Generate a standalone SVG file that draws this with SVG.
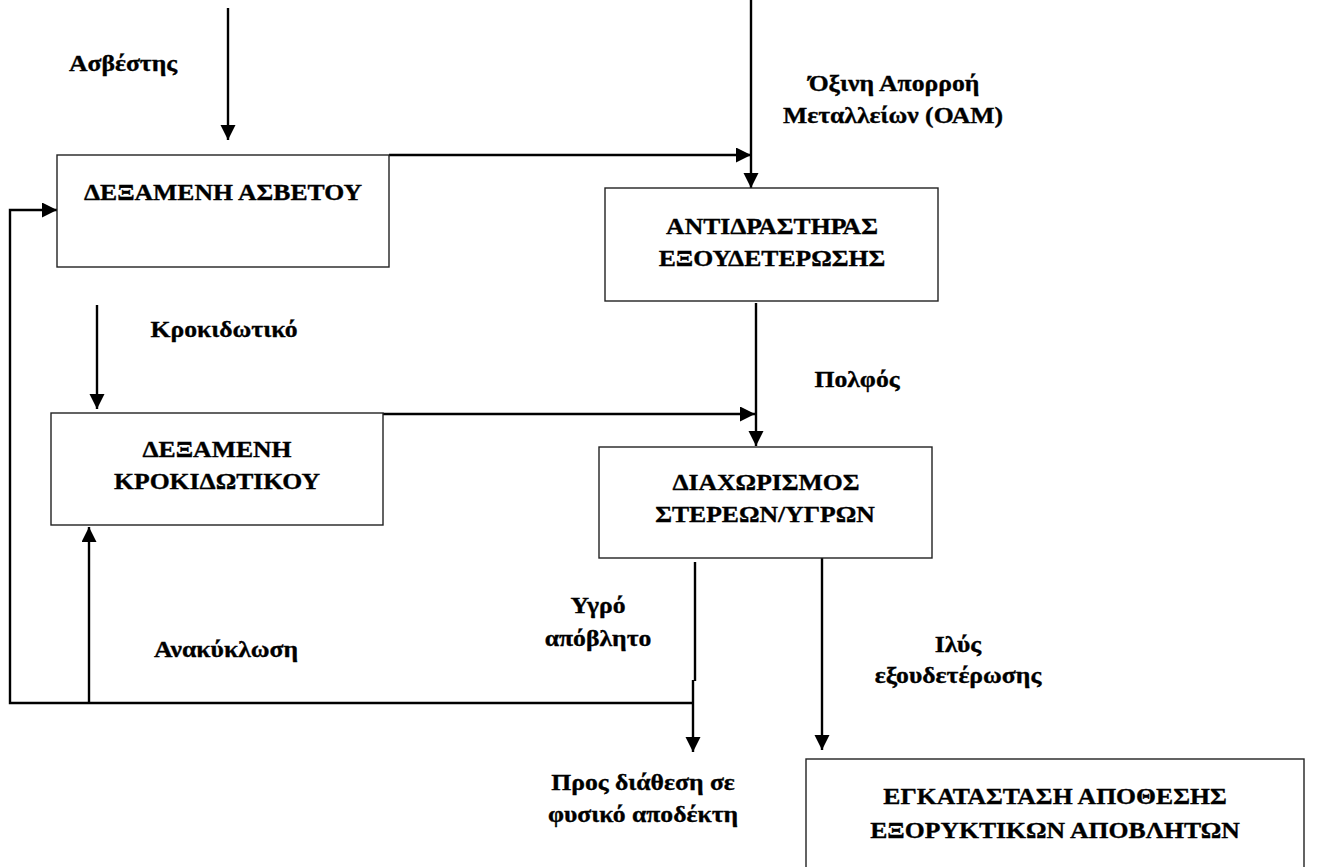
<svg xmlns="http://www.w3.org/2000/svg" width="1318" height="867" viewBox="0 0 1318 867">
<style>
.box{fill:#fff;stroke:#222;stroke-width:1.4}
.c{fill:none;stroke:#000;stroke-width:2.4}
.t{font-family:"Liberation Serif","Times New Roman",serif;font-weight:bold;font-size:24px;fill:#000;stroke:#000;stroke-width:0.35;text-anchor:middle}
</style>
<defs>
<marker id="ah" markerUnits="userSpaceOnUse" markerWidth="16" markerHeight="16" refX="15" refY="7.5" orient="auto">
<path d="M0,0 L15,7.5 L0,15 z" fill="#000"/>
</marker>
</defs>
<rect width="1318" height="867" fill="#fff"/>
<g id="connectors">
<line class="c" x1="228" y1="8" x2="228" y2="140" marker-end="url(#ah)"/>
<line class="c" x1="751" y1="0" x2="751" y2="188" marker-end="url(#ah)"/>
<line class="c" x1="389" y1="155" x2="751" y2="155" marker-end="url(#ah)"/>
<line class="c" x1="756" y1="303" x2="756" y2="446" marker-end="url(#ah)"/>
<line class="c" x1="383" y1="414" x2="755" y2="414" marker-end="url(#ah)"/>
<line class="c" x1="97" y1="305" x2="97" y2="409" marker-end="url(#ah)"/>
<line class="c" x1="695" y1="562" x2="695" y2="681"/>
<line class="c" x1="693" y1="680" x2="693" y2="752" marker-end="url(#ah)"/>
<polyline class="c" points="693,703 10,703 10,210 57,210" marker-end="url(#ah)"/>
<line class="c" x1="89" y1="703" x2="89" y2="527" marker-end="url(#ah)"/>
<line class="c" x1="822" y1="557" x2="822" y2="750" marker-end="url(#ah)"/>
</g>
<g id="lbl-asvestis"><text class="t" transform="translate(123,71) scale(1.07,1)">Ασβέστης</text></g>
<g id="lbl-oam">
<text class="t" transform="translate(894,91) scale(1.07,1)">Όξινη Απορροή</text>
<text class="t" transform="translate(893,123) scale(1.07,1)">Μεταλλείων (ΟΑΜ)</text>
</g>
<g id="node-dex-asvestou">
<rect class="box" x="57" y="155" width="332" height="112"/>
<text class="t" transform="translate(223,200) scale(1.07,1)">ΔΕΞΑΜΕΝΗ ΑΣΒΕΤΟΥ</text>
</g>
<g id="node-antidrastiras">
<rect class="box" x="605" y="188" width="333" height="113"/>
<text class="t" transform="translate(772,234) scale(1.07,1)">ΑΝΤΙΔΡΑΣΤΗΡΑΣ</text>
<text class="t" transform="translate(772,266) scale(1.07,1)">ΕΞΟΥΔΕΤΕΡΩΣΗΣ</text>
</g>
<g id="lbl-krokidotiko"><text class="t" transform="translate(224,337) scale(1.07,1)">Κροκιδωτικό</text></g>
<g id="lbl-polfos"><text class="t" transform="translate(857,387) scale(1.07,1)">Πολφός</text></g>
<g id="node-dex-krokidotikou">
<rect class="box" x="51" y="413" width="332" height="112"/>
<text class="t" transform="translate(217,457) scale(1.07,1)">ΔΕΞΑΜΕΝΗ</text>
<text class="t" transform="translate(217,489) scale(1.07,1)">ΚΡΟΚΙΔΩΤΙΚΟΥ</text>
</g>
<g id="node-diaxorismos">
<rect class="box" x="599" y="447" width="333" height="111"/>
<text class="t" transform="translate(766,490) scale(1.07,1)">ΔΙΑΧΩΡΙΣΜΟΣ</text>
<text class="t" transform="translate(765,522) scale(1.07,1)">ΣΤΕΡΕΩΝ/ΥΓΡΩΝ</text>
</g>
<g id="lbl-ygro">
<text class="t" transform="translate(598,613) scale(1.07,1)">Υγρό</text>
<text class="t" transform="translate(598,646) scale(1.07,1)">απόβλητο</text>
</g>
<g id="lbl-anakyklosi"><text class="t" transform="translate(226,657) scale(1.07,1)">Ανακύκλωση</text></g>
<g id="lbl-ilys">
<text class="t" transform="translate(958,652) scale(1.07,1)">Ιλύς</text>
<text class="t" transform="translate(958,683) scale(1.07,1)">εξουδετέρωσης</text>
</g>
<g id="lbl-pros">
<text class="t" transform="translate(643,790) scale(1.07,1)">Προς διάθεση σε</text>
<text class="t" transform="translate(643,822) scale(1.07,1)">φυσικό αποδέκτη</text>
</g>
<g id="node-egkatastasi">
<rect class="box" x="806" y="759" width="498" height="130"/>
<text class="t" transform="translate(1055,804) scale(1.07,1)">ΕΓΚΑΤΑΣΤΑΣΗ ΑΠΟΘΕΣΗΣ</text>
<text class="t" transform="translate(1055,838) scale(1.07,1)">ΕΞΟΡΥΚΤΙΚΩΝ ΑΠΟΒΛΗΤΩΝ</text>
</g>
</svg>
